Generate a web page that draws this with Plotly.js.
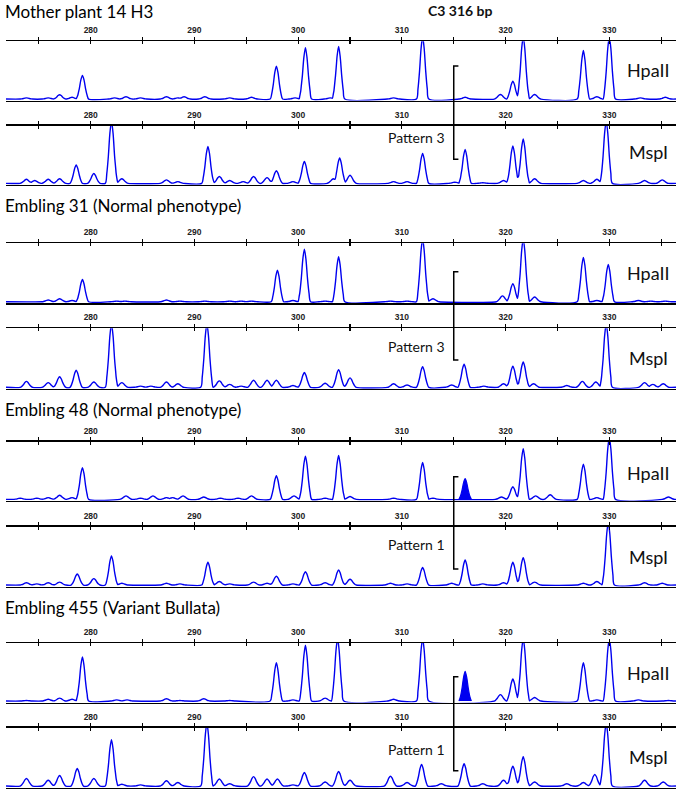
<!DOCTYPE html>
<html>
<head>
<meta charset="utf-8">
<script src="https://cdn.plot.ly/plotly-3.0.1.min.js"></script>
<style>html,body{margin:0;padding:0;background:#fff;}#chart{width:680px;height:792px;}</style>
</head>
<body>
<div id="chart"></div>
<script>
// ---------- data (fragment size in bp, relative peak height) ----------
const groupTitles = ["Mother plant 14 H3", "Embling 31 (Normal phenotype)", "Embling 48 (Normal phenotype)", "Embling 455 (Variant Bullata)"];
const enzymeLabels = ["HpaII", "MspI"];
const patternLabels = ["Pattern 3", "Pattern 3", "Pattern 1", "Pattern 1"];
const markerLabel = "C3 316 bp";
const tickValues = [275, 280, 285, 290, 295, 300, 305, 310, 315, 320, 325, 330, 335];
const tickLabels = ["", "280", "", "290", "", "300", "", "310", "", "320", "", "330", ""];

const mother_hpa_bp = [273.8, 275.9, 277.0, 278.2, 279.2, 282.3, 283.4, 284.8, 287.3, 288.4, 289.0, 291.0, 293.4, 295.5, 297.9, 299.7, 300.7, 303.1, 303.9, 309.2, 312.0, 316.1, 319.5, 320.7, 321.7, 322.8, 327.5, 328.8, 330.0, 333.0, 335.4];
const mother_hpa_h  = [0.02, 0.02, 0.075, 0.03, 0.41, 0.02, 0.04, 0.02, 0.04, 0.02, 0.04, 0.04, 0.02, 0.03, 0.57, 0.02, 0.89, 0.02, 0.91, 0.02, 1.08, 0.03, 0.08, 0.31, 1.08, 0.08, 0.84, 0.04, 1.08, 0.02, 0.03];
const mother_msp_bp = [273.8, 274.6, 275.9, 277.0, 278.6, 280.3, 282.0, 283.0, 287.3, 288.4, 291.3, 292.4, 293.4, 294.7, 295.7, 297.0, 297.9, 299.5, 300.6, 303.4, 304.0, 305.0, 309.2, 310.5, 312.0, 315.1, 316.1, 317.8, 319.8, 320.7, 321.7, 322.8, 327.5, 328.8, 329.7, 333.4, 335.1];
const mother_msp_h  = [0.07, 0.05, 0.07, 0.08, 0.32, 0.17, 1.08, 0.08, 0.06, 0.03, 0.64, 0.12, 0.05, 0.03, 0.12, 0.10, 0.22, 0.03, 0.38, 0.08, 0.44, 0.14, 0.03, 0.03, 0.52, 0.02, 0.59, 0.01, 0.05, 0.65, 0.77, 0.08, 0.05, 0.07, 1.08, 0.05, 0.06];

const e31_hpa_bp = [275.9, 277.0, 278.2, 279.2, 282.5, 283.3, 287.3, 288.6, 291.0, 293.4, 294.5, 295.5, 298.0, 299.5, 300.6, 302.6, 303.9, 308.9, 310.5, 312.0, 313.0, 319.7, 320.7, 321.7, 322.8, 327.5, 328.8, 329.9, 332.8, 334.0, 335.4];
const e31_hpa_h  = [0.03, 0.05, 0.02, 0.38, 0.01, 0.01, 0.03, 0.01, 0.01, 0.01, 0.01, 0.01, 0.54, 0.02, 0.90, 0.01, 0.77, 0.01, 0.01, 1.08, 0.05, 0.10, 0.31, 1.08, 0.08, 0.76, 0.02, 0.64, 0.02, 0.01, 0.01];
const e31_msp_bp = [273.8, 275.9, 277.0, 278.6, 280.3, 282.0, 283.0, 284.8, 285.8, 287.3, 288.4, 291.2, 292.4, 293.4, 294.5, 295.7, 297.0, 297.9, 299.5, 300.6, 302.6, 303.9, 305.0, 309.2, 310.5, 312.0, 314.8, 316.0, 317.9, 319.8, 320.7, 321.7, 322.7, 325.9, 327.4, 328.7, 329.7, 333.4, 334.2, 335.2];
const e31_msp_h  = [0.10, 0.08, 0.18, 0.29, 0.09, 1.08, 0.08, 0.02, 0.02, 0.09, 0.06, 1.08, 0.11, 0.05, 0.02, 0.12, 0.12, 0.12, 0.03, 0.25, 0.07, 0.30, 0.16, 0.06, 0.04, 0.35, 0.04, 0.39, 0.02, 0.06, 0.36, 0.43, 0.06, 0.03, 0.10, 0.09, 1.08, 0.08, 0.05, 0.06];

const e48_hpa_bp = [273.2, 274.8, 275.9, 277.0, 278.2, 279.2, 283.4, 284.8, 286.0, 287.3, 287.9, 288.9, 290.9, 292.5, 294.2, 295.5, 297.9, 299.6, 300.7, 302.6, 303.9, 305.0, 309.2, 312.0, 313.0, 319.6, 320.7, 321.7, 322.9, 324.3, 327.5, 328.8, 330.0, 335.7];
const e48_hpa_h  = [0.02, 0.02, 0.03, 0.07, 0.03, 0.55, 0.06, 0.02, 0.06, 0.03, 0.03, 0.06, 0.04, 0.02, 0.02, 0.06, 0.41, 0.06, 0.75, 0.02, 0.76, 0.05, 0.02, 0.64, 0.02, 0.04, 0.22, 0.88, 0.06, 0.08, 0.61, 0.03, 1.08, 0.04];
const e48_msp_bp = [273.8, 274.8, 275.9, 277.0, 278.7, 280.3, 282.0, 283.0, 287.3, 288.6, 291.3, 292.4, 293.4, 295.7, 297.0, 297.9, 299.5, 300.7, 302.6, 303.9, 305.0, 308.9, 310.5, 312.0, 314.8, 316.1, 317.8, 319.8, 320.7, 321.7, 322.8, 327.5, 328.8, 329.9, 333.4, 335.1];
const e48_msp_h  = [0.04, 0.02, 0.04, 0.05, 0.19, 0.11, 0.50, 0.03, 0.03, 0.02, 0.39, 0.06, 0.02, 0.05, 0.03, 0.15, 0.02, 0.23, 0.04, 0.26, 0.10, 0.03, 0.02, 0.30, 0.03, 0.43, 0.02, 0.04, 0.39, 0.47, 0.05, 0.03, 0.06, 1.08, 0.04, 0.03];

const e455_hpa_bp = [273.8, 275.9, 277.0, 278.2, 279.2, 282.5, 283.5, 287.3, 288.6, 290.9, 293.4, 297.9, 299.5, 300.7, 302.6, 303.8, 309.2, 312.0, 319.5, 320.7, 321.7, 322.8, 327.5, 328.8, 330.0, 332.8, 335.7];
const e455_hpa_h  = [0.01, 0.03, 0.05, 0.03, 0.76, 0.02, 0.02, 0.04, 0.01, 0.04, 0.01, 0.66, 0.02, 0.96, 0.05, 1.08, 0.03, 1.08, 0.11, 0.38, 1.08, 0.06, 0.66, 0.02, 1.08, 0.02, 0.01];
const e455_msp_bp = [273.8, 275.9, 277.0, 278.7, 280.3, 282.0, 283.0, 284.8, 287.3, 288.4, 291.2, 292.4, 293.4, 295.7, 297.0, 298.0, 299.5, 300.6, 302.6, 303.9, 305.0, 308.9, 310.5, 311.9, 313.8, 316.0, 317.8, 319.8, 320.7, 321.7, 322.8, 325.9, 327.5, 328.6, 329.7, 333.4, 335.2];
const e455_msp_h  = [0.13, 0.10, 0.18, 0.30, 0.13, 0.79, 0.03, 0.02, 0.09, 0.06, 1.08, 0.12, 0.04, 0.16, 0.12, 0.12, 0.02, 0.23, 0.07, 0.25, 0.10, 0.17, 0.06, 0.37, 0.04, 0.38, 0.04, 0.10, 0.34, 0.50, 0.07, 0.04, 0.06, 0.20, 1.08, 0.10, 0.07];

// highlighted (filled) C3 316 bp peak, HpaII of Embling 48 and Embling 455
const filled_bp = [316.1, 316.1];
const filled_h  = [0.36, 0.51];

// ---------- rendering ----------
const W = 680, H = 792;
const pxX = v => v / W, pxY = v => 1 - v / H;
const X_RANGE = [271.83, 336.43];
const X_DOMAIN = [6 / W, 676 / W];
const BLUE = '#0000f0';
// peak glyph (drawing style for one electropherogram peak)
const GL_DX = [-0.6, -0.45, -0.3, -0.15, 0, 0.15, 0.3, 0.45, 0.6];
const GL_K  = [0, 0.16, 0.44, 0.81, 1, 0.81, 0.44, 0.16, 0];
function glyph(dx) {
  if (dx <= GL_DX[0] || dx >= GL_DX[GL_DX.length - 1]) return 0;
  for (let i = 1; i < GL_DX.length; i++) {
    if (dx <= GL_DX[i]) {
      const t = (dx - GL_DX[i - 1]) / (GL_DX[i] - GL_DX[i - 1]);
      return GL_K[i - 1] + t * (GL_K[i] - GL_K[i - 1]);
    }
  }
  return 0;
}
function traceXY(bp, h) {
  const xs = [X_RANGE[0], X_RANGE[1]];
  bp.forEach(b => GL_DX.forEach(d => xs.push(+(b + d).toFixed(3))));
  const ux = Array.from(new Set(xs)).sort((a, b) => a - b);
  const uy = ux.map(x => {
    let m = 0;
    for (let i = 0; i < bp.length; i++) m = Math.max(m, h[i] * glyph(x - bp[i]));
    return m;
  });
  return {x: ux, y: uy};
}

const panels = [
  {bp: mother_hpa_bp, h: mother_hpa_h, top: 41.3, base: 99.0, label: 0, ly: 70},
  {bp: mother_msp_bp, h: mother_msp_h, top: 125.7, base: 183.3, label: 1, ly: 152},
  {bp: e31_hpa_bp, h: e31_hpa_h, top: 243.3, base: 301.7, label: 0, ly: 273},
  {bp: e31_msp_bp, h: e31_msp_h, top: 328.3, base: 387.3, label: 1, ly: 358},
  {bp: e48_hpa_bp, h: e48_hpa_h, top: 441.7, base: 499.3, label: 0, ly: 473, fill: 0},
  {bp: e48_msp_bp, h: e48_msp_h, top: 526.7, base: 585.0, label: 1, ly: 557},
  {bp: e455_hpa_bp, h: e455_hpa_h, top: 643.0, base: 701.0, label: 0, ly: 673, fill: 1},
  {bp: e455_msp_bp, h: e455_msp_h, top: 727.5, base: 786.0, label: 1, ly: 757}
];

const traces = [];
const layout = {
  width: W, height: H,
  margin: {l: 0, r: 0, t: 0, b: 0},
  paper_bgcolor: '#fff', plot_bgcolor: 'rgba(0,0,0,0)',
  showlegend: false,
  annotations: [], shapes: []
};
const labelFont = {family: 'Lato, "Open Sans", sans-serif', size: 18, color: '#111'};

panels.forEach((p, i) => {
  const mainId = i === 0 ? 'x' : 'x' + (2 * i + 1);
  const ovId = 'x' + (2 * i + 2);
  const yId = i === 0 ? 'y' : 'y' + (i + 1);
  const mainKey = 'xaxis' + (i === 0 ? '' : (2 * i + 1));
  const ovKey = 'xaxis' + (2 * i + 2);
  const yKey = 'yaxis' + (i === 0 ? '' : (i + 1));
  layout[mainKey] = {
    domain: X_DOMAIN, range: X_RANGE, side: 'top', anchor: yId,
    showline: true, linecolor: '#000', linewidth: 1.5, mirror: true,
    ticks: 'outside', ticklen: 3, tickwidth: 1.2, tickcolor: '#000',
    tickmode: 'array', tickvals: tickValues, ticktext: tickLabels,
    tickfont: {family: '"Liberation Sans", Arial, sans-serif', size: 8.5, color: '#222', weight: 'bold'},
    showgrid: false, zeroline: false, fixedrange: true
  };
  layout[ovKey] = {
    overlaying: mainId, domain: X_DOMAIN, range: X_RANGE, side: 'top', anchor: yId,
    showline: false, ticks: 'inside', ticklen: 3, tickwidth: 1.2, tickcolor: '#000',
    tickmode: 'array', tickvals: tickValues, showticklabels: false,
    showgrid: false, zeroline: false, fixedrange: true
  };
  layout[yKey] = {
    domain: [pxY(p.base + 1.5), pxY(p.top)], range: [-0.025, 1], anchor: mainId,
    visible: false, showgrid: false, zeroline: false, fixedrange: true
  };
  const xy = traceXY(p.bp, p.h);
  traces.push({x: xy.x, y: xy.y, xaxis: mainId, yaxis: yId, type: 'scatter', mode: 'lines',
    line: {color: BLUE, width: 1.4, shape: 'spline', smoothing: 0.8}, hoverinfo: 'skip'});
  if (p.fill !== undefined) {
    const fx = GL_DX.map(d => filled_bp[p.fill] + d);
    const fy = GL_K.map(k => k * filled_h[p.fill]);
    traces.push({x: fx, y: fy, xaxis: mainId, yaxis: yId, type: 'scatter', mode: 'lines',
      fill: 'tozeroy', fillcolor: BLUE, line: {color: BLUE, width: 1.2, shape: 'spline', smoothing: 0.8}, hoverinfo: 'skip'});
  }
  traces.push({x: [], y: [], xaxis: ovId, yaxis: yId, type: 'scatter', mode: 'lines', hoverinfo: 'skip'});
  layout.annotations.push({text: enzymeLabels[p.label], xref: 'paper', yref: 'paper',
    x: pxX(648.5), y: pxY(p.ly), xanchor: 'center', yanchor: 'middle', showarrow: false, font: labelFont});
});

// group titles
const titleY = [11.5, 205, 409, 607];
groupTitles.forEach((t, g) => {
  layout.annotations.push({text: t, xref: 'paper', yref: 'paper', x: pxX(3), y: pxY(titleY[g]),
    xanchor: 'left', yanchor: 'middle', showarrow: false,
    font: {family: 'Lato, "Open Sans", sans-serif', size: 17, color: '#000'}});
});
layout.annotations.push({text: markerLabel, xref: 'paper', yref: 'paper', x: pxX(460), y: pxY(11),
  xanchor: 'center', yanchor: 'middle', showarrow: false,
  font: {family: 'Lato, "Open Sans", sans-serif', size: 14, color: '#111', weight: 'bold'}});

// pattern brackets at the C3 316 bp position
const bracket = [[66, 159.3, 137], [271.7, 360, 346.7], [476.7, 569, 544], [676.7, 770.7, 749]];
bracket.forEach((b, g) => {
  layout.shapes.push({type: 'path', xref: 'x', yref: 'paper',
    path: `M 315.45 ${pxY(b[0])} L 315 ${pxY(b[0])} L 315 ${pxY(b[1])} L 315.45 ${pxY(b[1])}`,
    line: {color: '#000', width: 1.5}});
  layout.annotations.push({text: patternLabels[g], xref: 'paper', yref: 'paper', x: pxX(447), y: pxY(b[2]),
    xanchor: 'right', yanchor: 'middle', showarrow: false,
    font: {family: 'Lato, "Open Sans", sans-serif', size: 14, color: '#111'}});
});

Plotly.newPlot('chart', traces, layout, {staticPlot: true, displayModeBar: false});
</script>
</body>
</html>
